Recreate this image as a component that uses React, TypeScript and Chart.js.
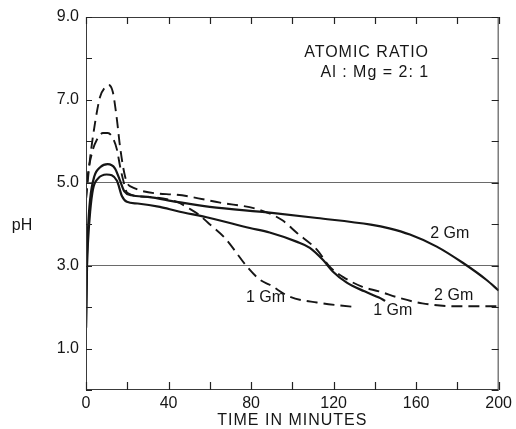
import React, { useEffect, useRef } from "react";
import { Chart, registerables } from "chart.js";

Chart.register(...registerables);

// ---- data (time in minutes, pH) ----
const timeSolid2Gm = [0, 0.5, 1, 2, 4, 7, 10.5, 14, 16.5, 18.5, 22, 30, 44, 60, 89, 112, 138, 147, 157, 170, 182.6, 194, 200];
const phSolid2Gm = [1.5, 3.2, 3.9, 4.6, 5.15, 5.38, 5.45, 5.35, 5.05, 4.8, 4.7, 4.66, 4.54, 4.42, 4.28, 4.15, 3.99, 3.9, 3.75, 3.46, 3.07, 2.66, 2.4];

const timeSolid1Gm = [0, 0.5, 1, 2, 3.4, 5.8, 10, 15, 17.4, 19.8, 25, 35.8, 44, 60, 79.4, 89, 102, 108.5, 114.8, 119.6, 126.4, 135, 142, 145];
const phSolid1Gm = [1.5, 3.0, 3.6, 4.3, 4.85, 5.1, 5.2, 5.05, 4.68, 4.54, 4.5, 4.42, 4.32, 4.15, 3.91, 3.8, 3.58, 3.43, 3.14, 2.86, 2.59, 2.38, 2.23, 2.15];

const timeDashed2Gm = [0, 2, 4.4, 6.8, 9.2, 11, 13, 15, 16.5, 19, 21.3, 44, 65, 84, 95, 102, 112, 118, 124.5, 134, 142, 152, 163, 180, 200];
const phDashed2Gm = [4.6, 5.6, 6.45, 7.07, 7.3, 7.36, 7.19, 6.52, 5.87, 5.14, 4.92, 4.71, 4.52, 4.35, 4.1, 3.8, 3.38, 2.98, 2.73, 2.49, 2.38, 2.22, 2.09, 2.02, 2.02];

const timeDashed1Gm = [0, 0.5, 2.9, 5.3, 8.2, 10.6, 13, 15, 16.5, 18, 20, 30, 44, 50, 55, 59, 67.3, 78, 84.3, 89, 98.8, 111.9, 129];
const phDashed1Gm = [4.6, 5.0, 5.72, 6.04, 6.2, 6.2, 6.08, 5.8, 5.4, 5.07, 4.76, 4.66, 4.54, 4.38, 4.22, 4.04, 3.67, 2.98, 2.66, 2.54, 2.25, 2.11, 2.01];

const xTickLabels = [0, 40, 80, 120, 160, 200];
const yTickLabels = [1, 3, 5, 7, 9];
const yGridValues = [3, 5];

// curve labels: [text, time, pH]
const curveLabels: [string, number, number][] = [
  ["2 Gm", 176.3, 3.77],
  ["2 Gm", 178.2, 2.28],
  ["1 Gm", 148.7, 1.92],
  ["1 Gm", 87, 2.23],
];
const noteLines: [string, number, number][] = [
  ["ATOMIC RATIO", 136, 8.13],
  ["Al : Mg = 2: 1", 140, 7.67],
];

const toPoints = (ts: number[], ps: number[]) => ts.map((t, i) => ({ x: t, y: ps[i] }));

const FONT = "'Liberation Sans', Arial, sans-serif";
const INK = "#161616";

const decorPlugin = {
  id: "decor",
  afterDraw(chart: any) {
    const { ctx, chartArea: a, scales } = chart;
    const xs = scales.x;
    const ys = scales.y;
    ctx.save();
    ctx.setLineDash([]);
    // frame
    ctx.strokeStyle = "#3a3a3a";
    ctx.lineWidth = 1;
    ctx.strokeRect(a.left + 0.5, a.top + 0.5, a.right - a.left - 1, a.bottom - a.top - 1);
    // inward ticks
    ctx.strokeStyle = "#222";
    ctx.lineWidth = 1.2;
    ctx.beginPath();
    for (let t = 0; t <= 200; t += 20) {
      const px = Math.round(xs.getPixelForValue(t)) + 0.5;
      ctx.moveTo(px, a.bottom);
      ctx.lineTo(px, a.bottom - 8);
      ctx.moveTo(px, a.top);
      ctx.lineTo(px, a.top + 7);
    }
    for (let v = 0; v <= 9; v += 1) {
      const py = Math.round(ys.getPixelForValue(v)) + 0.5;
      ctx.moveTo(a.left, py);
      ctx.lineTo(a.left + 6, py);
      ctx.moveTo(a.right, py);
      ctx.lineTo(a.right - 7, py);
    }
    ctx.stroke();

    ctx.fillStyle = INK;
    ctx.textAlign = "center";
    ctx.textBaseline = "middle";
    ctx.font = `16px ${FONT}`;
    for (const [txt, t, p] of curveLabels) {
      ctx.fillText(txt, xs.getPixelForValue(t), ys.getPixelForValue(p));
    }
    (ctx as any).letterSpacing = "1px";
    for (const [txt, t, p] of noteLines) {
      ctx.fillText(txt, xs.getPixelForValue(t), ys.getPixelForValue(p));
    }
    // axis titles
    ctx.fillText("TIME IN MINUTES", (a.left + a.right) / 2, a.bottom + 31);
    (ctx as any).letterSpacing = "0px";
    ctx.fillText("pH", 22, ys.getPixelForValue(3.96));
    ctx.restore();
  },
};

export default function App() {
  const ref = useRef<HTMLCanvasElement | null>(null);

  useEffect(() => {
    if (!ref.current) return;
    const solid = (data: any) => ({
      data,
      borderColor: INK,
      borderWidth: 2.2,
      pointRadius: 0,
      fill: false,
      cubicInterpolationMode: "monotone" as const,
    });
    const dashed = (data: any) => ({
      data,
      borderColor: INK,
      borderWidth: 1.9,
      borderDash: [11, 6],
      pointRadius: 0,
      fill: false,
      cubicInterpolationMode: "monotone" as const,
    });
    const chart = new Chart(ref.current, {
      type: "line",
      data: {
        datasets: [
          solid(toPoints(timeSolid2Gm, phSolid2Gm)),
          solid(toPoints(timeSolid1Gm, phSolid1Gm)),
          dashed(toPoints(timeDashed2Gm, phDashed2Gm)),
          dashed(toPoints(timeDashed1Gm, phDashed1Gm)),
        ],
      },
      options: {
        animation: false,
        responsive: false,
        devicePixelRatio: 1,
        layout: { padding: { left: 0, top: 17, right: 17, bottom: 0 } },
        plugins: { legend: { display: false }, tooltip: { enabled: false } },
        scales: {
          x: {
            type: "linear",
            min: 0,
            max: 200,
            afterFit: (s: any) => {
              s.height = 39;
            },
            afterBuildTicks: (s: any) => {
              s.ticks = xTickLabels.map((v) => ({ value: v }));
            },
            ticks: {
              color: INK,
              font: { size: 16, family: FONT },
              padding: 4,
              maxRotation: 0,
              autoSkip: false,
              callback: (v: any) => String(v),
            },
            grid: { display: false, drawTicks: false },
            border: { display: false },
          },
          y: {
            type: "linear",
            min: 0,
            max: 9,
            afterFit: (s: any) => {
              s.width = 86;
            },
            afterBuildTicks: (s: any) => {
              s.ticks = [...yTickLabels, ...yGridValues.filter((g) => !yTickLabels.includes(g))].map((v) => ({ value: v }));
            },
            ticks: {
              color: INK,
              font: { size: 16, family: FONT },
              padding: 7,
              autoSkip: false,
              callback: (v: any) => Number(v).toFixed(1),
            },
            grid: {
              drawTicks: false,
              lineWidth: 1,
              color: (c: any) => (c.tick && yGridValues.includes(c.tick.value) ? "#6a6a6a" : "rgba(0,0,0,0)"),
            },
            border: { display: false },
          },
        },
      },
      plugins: [decorPlugin],
    });
    return () => chart.destroy();
  }, []);

  return (
    <div style={{ position: "absolute", left: 0, top: 0, width: 516, height: 429, background: "#fff" }}>
      <canvas ref={ref} width={516} height={429} style={{ display: "block" }} />
    </div>
  );
}
